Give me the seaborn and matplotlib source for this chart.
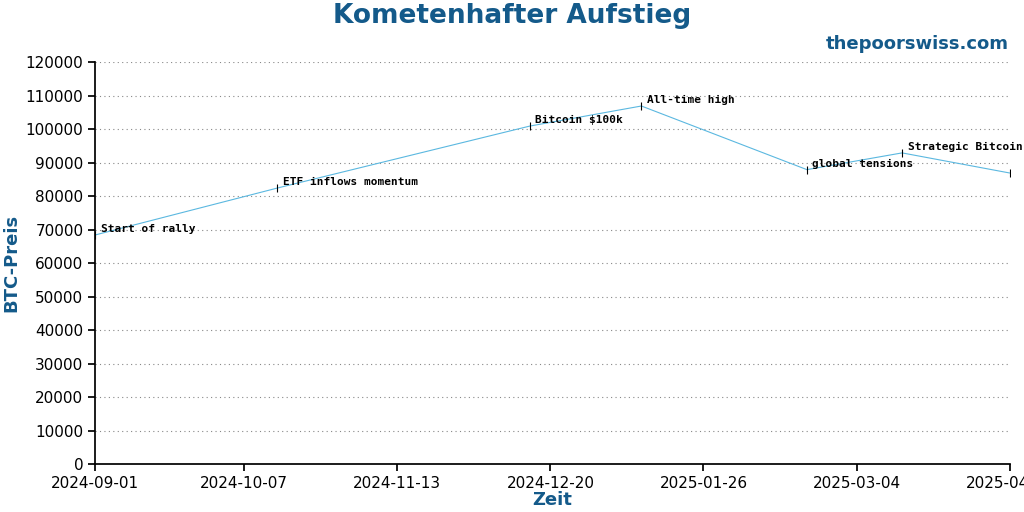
import pandas as pd
import matplotlib
matplotlib.use("Agg")
import matplotlib.pyplot as plt
import matplotlib.dates as mdates
import seaborn as sns

# Daten
dates = ["2024-09-01", "2024-10-15", "2024-12-15", "2025-01-11",
         "2025-02-20", "2025-03-15", "2025-04-10"]
prices = [68500, 82500, 101000, 107000, 88000, 93000, 87000]
events = ["Start of rally", "ETF inflows momentum", "Bitcoin $100k",
          "All-time high", "global tensions", "Strategic Bitcoin Reserve", ""]
tick_dates = ["2024-09-01", "2024-10-07", "2024-11-13", "2024-12-20",
              "2025-01-26", "2025-03-04", "2025-04-10"]

df = pd.DataFrame({"Zeit": pd.to_datetime(dates), "Preis": prices, "Event": events})
blue = "#145a8a"

sns.set_theme(style="white")
fig, ax = plt.subplots(figsize=(10.24, 5.12), dpi=100)
sns.lineplot(data=df, x="Zeit", y="Preis", ax=ax, color="#5bb8e0", linewidth=0.8)
ax.scatter(df["Zeit"], df["Preis"], marker="|", color="black", s=40, linewidths=0.8, zorder=3)
for _, r in df.iterrows():
    if r["Event"]:
        ax.annotate(r["Event"], (r["Zeit"], r["Preis"]), xytext=(4, 2),
                    textcoords="offset points", fontsize=8, family="DejaVu Sans Mono",
                    fontweight="bold", color="black", annotation_clip=False)

ax.set_xlim(pd.Timestamp(tick_dates[0]), pd.Timestamp(tick_dates[-1]))
ax.set_ylim(0, 120000)
ax.set_yticks(range(0, 120001, 10000))
ax.set_xticks(pd.to_datetime(tick_dates))
ax.xaxis.set_major_formatter(mdates.DateFormatter("%Y-%m-%d"))
ax.yaxis.grid(True, linestyle=(0, (1, 3)), color="#888888", linewidth=0.8)
for s in ["top", "right"]:
    ax.spines[s].set_visible(False)
for s in ["left", "bottom"]:
    ax.spines[s].set_color("black")
ax.tick_params(axis="both", length=5, color="black", labelsize=11, labelcolor="black",
               bottom=True, left=True)
ax.set_xlabel("Zeit", fontsize=13, fontweight="bold", color=blue, labelpad=0)
ax.set_ylabel("BTC-Preis", fontsize=13, fontweight="bold", color=blue)
fig.suptitle("Kometenhafter Aufstieg", fontsize=19, fontweight="bold", color=blue, y=0.995)
fig.text(0.985, 0.905, "thepoorswiss.com", ha="right", fontsize=13, fontweight="bold", color=blue)
fig.subplots_adjust(left=0.093, right=0.986, top=0.878, bottom=0.093)
fig.savefig("out.png", dpi=100)
